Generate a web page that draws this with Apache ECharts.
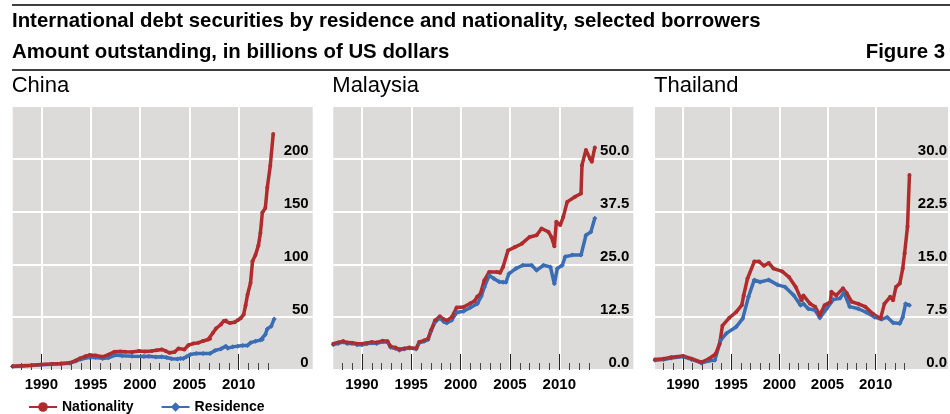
<!DOCTYPE html>
<html>
<head>
<meta charset="utf-8">
<script src="https://cdn.jsdelivr.net/npm/echarts@6/dist/echarts.min.js"></script>
<style>
html, body { margin: 0; padding: 0; background: #fff; }
#main { width: 950px; height: 414px; }
</style>
</head>
<body>
<div id="main"></div>
<script>
// 数据 (年份, 十亿美元)
var chinaNatYears = [1987.1, 1988.0, 1989.0, 1990.0, 1991.0, 1992.0, 1992.9, 1993.5, 1993.9, 1994.5, 1994.9, 1995.5, 1996.2, 1996.8, 1997.4, 1998.0, 1998.5, 1999.2, 1999.9, 2000.5, 2001.2, 2001.7, 2002.2, 2002.6, 2003.0, 2003.5, 2003.9, 2004.5, 2004.9, 2005.4, 2005.9, 2006.4, 2006.9, 2007.1, 2007.4, 2007.7, 2008.2, 2008.5, 2008.7, 2009.1, 2009.6, 2009.9, 2010.2, 2010.5, 2010.7, 2010.9, 2011.2, 2011.4, 2011.7, 2012.0, 2012.2, 2012.4, 2012.7, 2012.9, 2013.2, 2013.5];
var chinaNatValues = [3.5, 4.0, 4.5, 5.2, 5.6, 6.2, 6.8, 9.0, 11.0, 13.0, 14.1, 13.8, 12.5, 14.5, 17.2, 17.5, 17.2, 17.0, 17.9, 17.6, 18.1, 18.8, 19.5, 18.0, 16.3, 17.0, 20.4, 19.5, 23.5, 25.0, 25.7, 27.5, 28.9, 29.5, 35.2, 39.3, 43.1, 46.5, 46.9, 44.6, 45.3, 47.2, 49.0, 52.5, 61.3, 71.5, 82.4, 103, 109, 118, 129.7, 149.2, 153.3, 172.9, 193.4, 223.6];
var chinaResYears = [1987.1, 1988.0, 1989.0, 1990.0, 1991.0, 1992.0, 1992.9, 1993.5, 1994.0, 1994.9, 1995.5, 1996.2, 1996.8, 1997.5, 1998.2, 1999.2, 2000.4, 2000.9, 2001.6, 2002.2, 2002.7, 2003.2, 2003.8, 2004.1, 2004.4, 2004.7, 2005.1, 2005.7, 2006.4, 2007.1, 2007.6, 2008.2, 2008.7, 2008.9, 2009.4, 2009.9, 2010.4, 2010.9, 2011.2, 2011.7, 2012.2, 2012.4, 2012.7, 2012.9, 2013.3, 2013.6];
var chinaResValues = [3.3, 3.8, 4.3, 5.0, 5.4, 6.0, 6.5, 8.5, 10.2, 12.0, 11.8, 11.0, 11.5, 14.1, 13.5, 13.1, 12.8, 13.1, 12.3, 12.5, 11.8, 10.6, 10.5, 11.0, 11.0, 12.5, 14.7, 15.7, 15.7, 15.7, 18.5, 20.0, 22.6, 20.7, 21.9, 22.6, 23.3, 23.3, 25.7, 27.3, 28.3, 28.9, 33.6, 38.9, 41.5, 48.4];

var malaysiaNatYears = [1987.1, 1987.6, 1988.1, 1988.5, 1989.0, 1989.5, 1990.0, 1990.5, 1991.0, 1991.5, 1992.1, 1992.6, 1992.9, 1993.4, 1993.8, 1994.3, 1994.8, 1995.5, 1995.8, 1996.3, 1996.7, 1997.0, 1997.4, 1997.9, 1998.3, 1998.6, 1999.1, 1999.6, 2000.3, 2001.0, 2001.4, 2001.7, 2002.0, 2002.4, 2002.9, 2003.7, 2004.0, 2004.3, 2004.8, 2005.5, 2006.2, 2007.0, 2007.7, 2008.2, 2008.9, 2009.2, 2009.5, 2009.7, 2010.1, 2010.4, 2010.8, 2011.6, 2012.2, 2012.3, 2012.7, 2013.1, 2013.3, 2013.6];
var malaysiaNatValues = [6.2, 6.5, 6.8, 6.5, 6.45, 6.2, 6.2, 6.4, 6.6, 6.5, 6.9, 6.8, 5.6, 5.3, 4.9, 5.1, 5.3, 5.1, 6.6, 7.0, 7.4, 9.4, 11.7, 12.7, 12.0, 11.7, 12.5, 14.8, 14.9, 15.8, 16.3, 17.4, 18.0, 21.2, 23.2, 23.2, 23.0, 24.4, 28.3, 29.1, 29.9, 31.5, 31.9, 33.5, 32.7, 31.5, 29.3, 35.1, 34.3, 36.2, 39.8, 41.0, 41.8, 48.5, 52.1, 50.1, 49.3, 52.7];
var malaysiaResYears = [1987.1, 1987.6, 1988.1, 1988.5, 1989.0, 1989.5, 1990.0, 1990.5, 1991.0, 1991.5, 1992.1, 1992.6, 1992.9, 1993.4, 1993.8, 1994.3, 1994.8, 1995.5, 1995.8, 1996.3, 1996.7, 1997.0, 1997.4, 1997.9, 1998.3, 1998.6, 1999.1, 1999.6, 2000.3, 2001.0, 2001.7, 2002.1, 2002.4, 2002.9, 2003.4, 2003.9, 2004.3, 2004.6, 2004.9, 2005.6, 2006.3, 2007.2, 2007.7, 2008.4, 2009.1, 2009.5, 2009.8, 2010.3, 2010.6, 2011.3, 2012.2, 2012.7, 2013.2, 2013.6];
var malaysiaResValues = [6.0, 6.3, 6.6, 6.3, 6.3, 6.0, 6.0, 6.2, 6.4, 6.3, 6.7, 6.6, 5.4, 5.1, 4.7, 5.0, 5.2, 5.0, 6.4, 6.8, 7.2, 9.2, 11.3, 12.3, 11.4, 11.1, 11.8, 13.6, 13.9, 14.8, 15.7, 17.5, 19.6, 22.4, 21.6, 20.9, 20.8, 20.8, 22.8, 24.0, 24.8, 24.8, 23.6, 24.8, 24.4, 20.4, 24.0, 24.8, 26.8, 27.2, 27.2, 31.9, 32.7, 35.9];

var thailandNatYears = [1987.1, 1988.0, 1988.8, 1990.0, 1990.9, 1991.9, 1992.7, 1993.4, 1993.8, 1994.1, 1994.8, 1995.5, 1996.1, 1996.3, 1996.7, 1997.4, 1997.9, 1998.4, 1998.9, 1999.4, 2000.3, 2001.0, 2001.7, 2002.3, 2002.5, 2003.2, 2003.7, 2004.2, 2004.7, 2005.3, 2005.4, 2005.9, 2006.6, 2007.0, 2007.5, 2008.2, 2008.9, 2009.7, 2010.5, 2010.9, 2011.5, 2011.8, 2012.1, 2012.5, 2012.8, 2013.0, 2013.3, 2013.5];
var thailandNatValues = [1.5, 1.6, 1.8, 2.0, 1.6, 1.1, 1.6, 2.3, 3.7, 6.3, 7.4, 8.2, 9.2, 10.6, 13.0, 15.4, 15.4, 14.8, 15.2, 14.4, 14.0, 13.2, 11.8, 9.9, 10.6, 9.4, 9.0, 7.8, 9.2, 9.7, 11.1, 10.6, 11.6, 10.9, 9.7, 9.4, 9.0, 8.0, 7.3, 9.4, 10.4, 9.9, 11.8, 12.3, 14.4, 16.6, 20.4, 27.7];
var thailandResYears = [1987.1, 1988.0, 1988.8, 1990.0, 1990.9, 1991.9, 1992.7, 1993.3, 1993.9, 1994.5, 1995.5, 1996.2, 1996.8, 1997.4, 1998.0, 1998.9, 1999.8, 2000.6, 2001.5, 2002.2, 2002.5, 2003.0, 2003.7, 2004.2, 2004.9, 2005.6, 2006.3, 2006.7, 2007.3, 2008.2, 2009.0, 2009.9, 2010.6, 2011.2, 2011.8, 2012.5, 2012.8, 2013.1, 2013.5];
var thailandResValues = [1.4, 1.5, 1.7, 1.9, 1.5, 1.0, 1.3, 1.4, 4.2, 5.2, 6.1, 7.3, 10.4, 12.8, 12.5, 12.8, 12.1, 11.8, 10.6, 9.2, 9.4, 8.7, 8.5, 7.4, 8.7, 10.0, 10.2, 11.0, 9.0, 8.7, 8.2, 7.5, 7.2, 7.5, 6.7, 6.6, 7.5, 9.4, 9.2];

var panelNames = ['China', 'Malaysia', 'Thailand'];
var yMax = [250, 62.5, 37.5];
var yStep = [50, 12.5, 7.5];
var yDecimals = [0, 1, 1];
var gridYears = [1990, 1995, 2000, 2005, 2010];
var tickYears = [1988, 1989, 1990, 1991, 1992, 1993, 1994, 1995, 1996, 1997, 1998, 1999, 2000, 2001, 2002, 2003, 2004, 2005, 2006, 2007, 2008, 2009, 2010, 2011, 2012, 2013];

var panelData = [
    {nat: [chinaNatYears, chinaNatValues], res: [chinaResYears, chinaResValues]},
    {nat: [malaysiaNatYears, malaysiaNatValues], res: [malaysiaResYears, malaysiaResValues]},
    {nat: [thailandNatYears, thailandNatValues], res: [thailandResYears, thailandResValues]}
];

var RED = '#b02c2c';
var BLUE = '#3b6db5';
var FONT = '"Liberation Sans", Arial, sans-serif';
var panelLeft = [12.7, 333.3, 655];
var labelMargin = [4, 4, 1];

function zip(a, b) {
    var out = [];
    for (var i = 0; i < a.length; i++) out.push([a[i], b[i]]);
    return out;
}

var chart = echarts.init(document.getElementById('main'));

var grids = [], xAxes = [], yAxes = [], series = [], titles = [];

titles.push({text: 'International debt securities by residence and nationality, selected borrowers', left: 12, top: 11, padding: 0,
    textStyle: {fontFamily: FONT, fontSize: 20.4, fontWeight: 'bold', color: '#000'}});
titles.push({text: 'Amount outstanding, in billions of US dollars', left: 12, top: 42, padding: 0,
    textStyle: {fontFamily: FONT, fontSize: 20.4, fontWeight: 'bold', color: '#000'}});
titles.push({text: 'Figure 3', right: 5, top: 42, padding: 0,
    textStyle: {fontFamily: FONT, fontSize: 20.4, fontWeight: 'bold', color: '#000'}});

for (var p = 0; p < 3; p++) {
    titles.push({text: panelNames[p], left: panelLeft[p] - 1, top: 75, padding: 0,
        textStyle: {fontFamily: FONT, fontSize: 22, fontWeight: 'normal', color: '#000'}});

    grids.push({left: panelLeft[p], top: 106, width: 300, height: 264, show: true,
        backgroundColor: '#dcdbda', borderWidth: 0, containLabel: false});

    // 年份标签和竖向网格线
    xAxes.push({type: 'value', gridIndex: p, position: 'bottom', min: 1987.1, max: 2017.5,
        axisLine: {show: false},
        axisTick: {show: false, customValues: gridYears},
        axisLabel: {customValues: gridYears, margin: 7, fontFamily: FONT, fontSize: 15, fontWeight: 'bold', color: '#000',
            formatter: function (v) { return String(v); }},
        splitLine: {show: true, lineStyle: {color: '#ffffff', width: 2}}});
    // 每年的小刻度
    xAxes.push({type: 'value', gridIndex: p, position: 'bottom', min: 1987.1, max: 2017.5,
        axisLine: {show: false},
        axisTick: {show: true, inside: true, length: 7, customValues: tickYears, lineStyle: {color: '#444', width: 1}},
        axisLabel: {show: false}, splitLine: {show: false}});
    // 五年的长刻度
    xAxes.push({type: 'value', gridIndex: p, position: 'bottom', min: 1987.1, max: 2017.5,
        axisLine: {show: false},
        axisTick: {show: true, inside: true, length: 16, customValues: gridYears, lineStyle: {color: '#222', width: 1}},
        axisLabel: {show: false}, splitLine: {show: false}});

    (function (dec) {
        yAxes.push({type: 'value', gridIndex: p, position: 'right', min: 0, max: yMax[p], interval: yStep[p],
            axisLine: {show: false}, axisTick: {show: false},
            axisLabel: {inside: true, showMaxLabel: false, margin: labelMargin[p], verticalAlign: 'bottom',
                fontFamily: FONT, fontSize: 15, fontWeight: 'bold', color: '#000',
                formatter: function (v) { return v.toFixed(dec); }},
            splitLine: {show: true, lineStyle: {color: '#ffffff', width: 2}}});
    })(yDecimals[p]);

    series.push({name: 'Residence', type: 'line', xAxisIndex: p * 3, yAxisIndex: p,
        data: zip(panelData[p].res[0], panelData[p].res[1]),
        symbol: 'diamond', symbolSize: 5, showSymbol: true,
        lineStyle: {color: BLUE, width: 3.5}, itemStyle: {color: BLUE}, animation: false});
    series.push({name: 'Nationality', type: 'line', xAxisIndex: p * 3, yAxisIndex: p,
        data: zip(panelData[p].nat[0], panelData[p].nat[1]),
        symbol: 'circle', symbolSize: 4, showSymbol: true,
        lineStyle: {color: RED, width: 3.5}, itemStyle: {color: RED}, animation: false});
}

var option = {
    animation: false,
    title: titles,
    grid: grids,
    xAxis: xAxes,
    yAxis: yAxes,
    legend: {data: ['Nationality', 'Residence'], left: 28, top: 400, padding: 0, itemWidth: 28, itemHeight: 12, itemGap: 27,
        textStyle: {fontFamily: FONT, fontSize: 14, fontWeight: 'bold', color: '#000'}},
    graphic: [
        {type: 'line', shape: {x1: 12, y1: 5, x2: 950, y2: 5}, style: {stroke: '#000', lineWidth: 1.5}},
        {type: 'line', shape: {x1: 12, y1: 70, x2: 950, y2: 70}, style: {stroke: '#000', lineWidth: 1.5}}
    ],
    series: series
};

chart.setOption(option);
</script>
</body>
</html>
